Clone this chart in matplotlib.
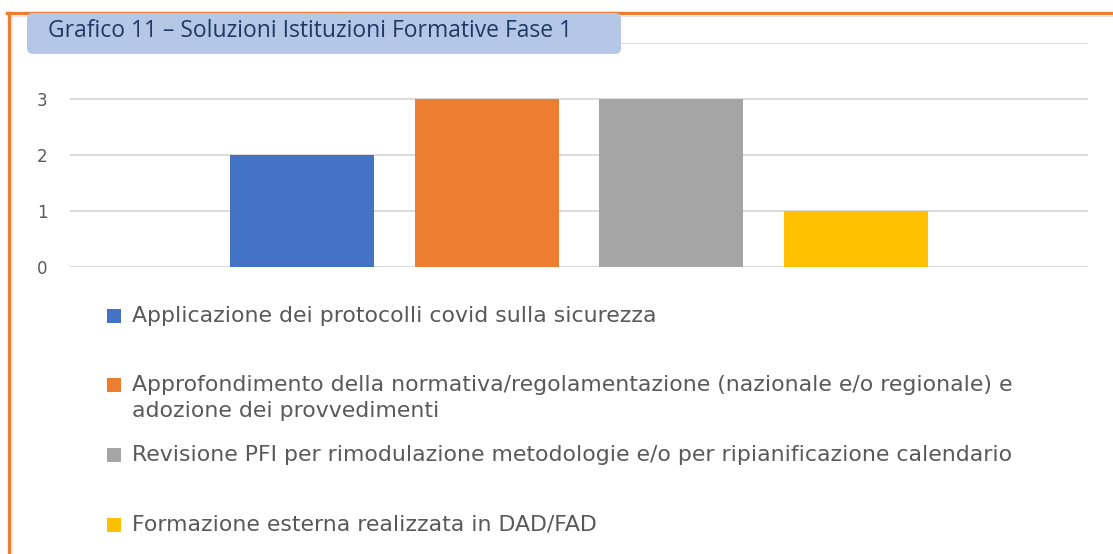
import matplotlib.pyplot as plt
from matplotlib.lines import Line2D
from matplotlib.patches import Rectangle, FancyBboxPatch
from matplotlib.transforms import IdentityTransform

# dati del grafico
titolo = "Grafico 11 \u2013 Soluzioni Istituzioni Formative Fase 1"
categorie = [
    "Applicazione dei protocolli covid sulla sicurezza",
    "Approfondimento della normativa/regolamentazione (nazionale e/o regionale) e\nadozione dei provvedimenti",
    "Revisione PFI per rimodulazione metodologie e/o per ripianificazione calendario",
    "Formazione esterna realizzata in DAD/FAD",
]
valori = [2, 3, 3, 1]
colori = ["#4472C4", "#ED7D31", "#A5A5A5", "#FFC000"]
yticks = [0, 1, 2, 3, 4]

W, H = 1113, 554
ARANCIO = "#ED7D31"
GRIGIO_TESTO = "#595959"


def fx(px):
    return px / W


def fy(py):
    return 1 - py / H


fig = plt.figure(figsize=(W / 100, H / 100), dpi=100)
pix = IdentityTransform()

# cornice arancione + bordo interno chiaro
fig.add_artist(Line2D([8.5, 8.5], [0, H - 13], color=ARANCIO, lw=2.4, transform=pix))
fig.add_artist(Line2D([7, W], [H - 13, H - 13], color=ARANCIO, lw=2.4, transform=pix))
fig.add_artist(Line2D([11.5, 11.5], [0, H - 15.5], color="#E3E3E3", lw=0.8, transform=pix))
fig.add_artist(Line2D([11.5, W], [H - 15.5, H - 15.5], color="#E3E3E3", lw=0.8, transform=pix))

# area del grafico
ax = fig.add_axes([fx(70), fy(267), fx(1088) - fx(70), fy(43) - fy(267)])
x = list(range(len(valori)))
ax.bar(x, valori, width=0.78, color=colori, zorder=3)
ax.set_xlim(-1.26, 4.26)
ax.set_ylim(0, 4)
ax.set_yticks(yticks)
ax.set_yticklabels([str(v) for v in yticks])
ax.set_xticks([])
ax.tick_params(axis="y", length=0, pad=16, labelsize=12, labelcolor=GRIGIO_TESTO)
ax.grid(axis="y", color="#D9D9D9", lw=1.3, zorder=0)
for s in ax.spines.values():
    s.set_visible(False)
for lbl in ax.get_yticklabels():
    lbl.set_fontfamily("DejaVu Sans")

# riquadro del titolo
r = 6
box = FancyBboxPatch((27 + r, H - 54 + r), 621 - 27 - 2 * r, 54 - 13 - 2 * r,
                     boxstyle=f"round,pad={r},rounding_size={r}",
                     facecolor="#B4C7E7", edgecolor="none", transform=pix, zorder=5)
fig.add_artist(box)
fig.text(fx(48), fy(31), titolo, color="#1F3864", fontsize=16.5, family=["Open Sans", "DejaVu Sans"],
         va="center", ha="left", zorder=6)

# legenda manuale
righe_y = [316, 385, 455, 525]
for lab, col, yc in zip(categorie, colori, righe_y):
    fig.add_artist(Rectangle((107, H - yc - 7), 14, 14, facecolor=col, edgecolor="none", transform=pix))
    for i, riga in enumerate(lab.split("\n")):
        fig.text(fx(132), fy(yc + i * 26), riga, color=GRIGIO_TESTO, fontsize=15.8,
                 family=["DejaVu Sans"], va="center", ha="left")

fig.savefig("out.png", dpi=100)
